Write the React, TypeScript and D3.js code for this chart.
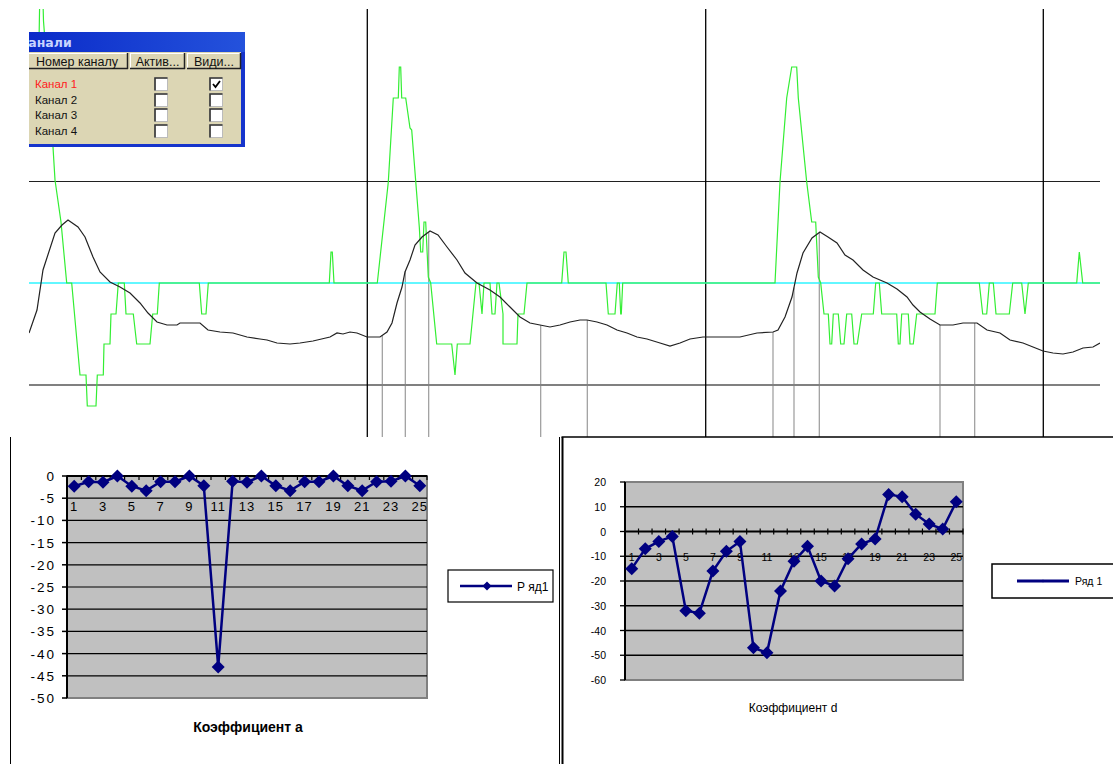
import React from 'react';
import * as d3 from 'd3';

// ---------- top oscilloscope panel data (t = sample, v = ADC counts) ----------
const blackTrace: [number, number][] = [
  [0,-50],[8,-27],[14,13],[26,50],[33,58],[39,63],[49,56],[56,46],[64,26],[71,11],[81,1],[91,-4],[101,-10],[111,-20],[119,-30],[128,-39],[138,-42],[148,-42],[151,-40],[171,-40],[179,-47],[191,-49],[204,-50],[218,-54],[231,-56],[238,-57],[248,-60],[261,-61],[271,-60],[284,-58],[301,-54],[308,-50],[314,-51],[321,-49],[328,-50],[338,-54],[351,-54],
  [358,-49],[363,-40],[368,-20],[373,-4],[376,11],[381,23],[386,38],[393,46],[401,52],[409,48],[418,36],[428,23],[436,10],[448,0],[461,-7],[471,-14],[481,-24],[491,-34],[501,-40],[511,-42],[521,-44],[531,-42],[541,-39],[551,-37],[558,-37],[568,-39],[578,-42],[588,-47],[598,-50],[608,-54],[618,-56],[631,-60],[641,-63],[651,-60],[661,-56],[674,-54],[691,-54],
  [711,-54],[728,-50],[744,-49],[749,-47],[756,-34],[763,-14],[768,10],[774,30],[783,45],[791,51],[799,46],[808,40],[816,28],[824,23],[834,13],[844,6],[858,0],[868,-6],[878,-14],[884,-22],[891,-29],[901,-36],[911,-42],[924,-42],[934,-40],[948,-40],[958,-47],[971,-50],[981,-57],[994,-60],[1004,-64],[1014,-68],[1024,-70],[1034,-71],[1044,-69],[1054,-65],[1064,-64],[1071,-60]
];

const greenTrace: [number, number][] = [
  [10,240],[11,300],[13.5,300],[14.5,262],[24,136],[26,103],[32,61],[37.7,0],[42.7,0],[51,-92],[57,-92],[58.3,-123],[67,-123],[68.3,-92],[74.3,-92],[75,-61],[81,-61],[82,-31],[87,-31],[89.3,0],[95.3,0],[97,-31],[104.3,-31],[107.7,-61],[121,-61],[123.7,-31],[128.3,-31],[130.3,0],[170.3,0],[172.7,-31],[177,-31],[179.3,0],[300.3,0],[302,31],[303.3,31],[305,0],
  [348.3,0],[359.3,101],[364.3,185],[369.3,185],[370.3,216],[371.7,216],[372.7,185],[376.7,185],[381,155],[382.7,153],[390.3,56],[391.7,31],[393.7,31],[395,61],[396.7,61],[399.3,6],[401.7,0],[407.7,-61],[422.7,-61],[426,-92],[428.3,-61],[441,-61],[447,0],[450,0],[453,-31],[455,0],[461,0],[463,-31],[466,-31],[468,0],[470,0],[474,-31],[474,-61],[488,-61],[489,-31],[495,-31],[498,0],[532.7,0],[535,31],[537,31],[539.3,0],[577,0],[579.3,-31],[586,-31],[588.3,0],[590.3,0],[591.7,-31],[592.3,-31],[593.7,0],
  [746,0],[751,101],[757.7,185],[762.7,216],[767.7,216],[769.3,185],[777.7,101],[782.7,61],[786.7,61],[789.3,6],[791.7,0],[795,-31],[799.3,-31],[801,-61],[802.7,-61],[804.3,-31],[809.3,-31],[811.7,-61],[815,-61],[817.7,-31],[822.7,-31],[825,-61],[828.3,-61],[832.7,-31],[844.3,-31],[846.7,0],[850.3,0],[852.7,-31],[867.7,-31],[869.3,-61],[871,-61],[872.7,-31],[879.3,-31],[881,-61],[884.3,-61],[887.7,-31],[906,-31],[908.3,0],[950.3,0],[953.7,-31],[957.7,-31],[960.3,0],[964.3,0],[967,-31],[980.3,-31],[983.7,0],[992.7,0],[996,-31],[999.3,0],[1047.7,0],[1050.3,31],[1053.7,0],[1071,0]
];

const markerTimes = [353.3, 376.3, 399.7, 511.7, 558.3, 744, 765, 790.3, 911, 945.7];
const cursorTimes = [338.3, 676.7, 1014.3];
const guideLevels = [102, -101];
const zeroLevel = 0;

const channels = ['Канал 1', 'Канал 2', 'Канал 3', 'Канал 4'];
const activeFlags = [false, false, false, false];
const visibleFlags = [true, false, false, false];
const headerLabels = ['Номер каналу', 'Актив...', 'Види...'];

// ---------- coefficient charts ----------
const categories = [1,2,3,4,5,6,7,8,9,10,11,12,13,14,15,16,17,18,19,20,21,22,23,24,25];
const xLabelCats = [1,3,5,7,9,11,13,15,17,19,21,23,25];
const coefA = [-2.3,-1.3,-1.4,0,-2.3,-3.3,-1.3,-1.3,0,-2.2,-43,-1.2,-1.4,0,-2.2,-3.3,-1.3,-1.3,0,-2.2,-3.3,-1.3,-1.2,0,-2.2];
const ticksA = [0,-5,-10,-15,-20,-25,-30,-35,-40,-45,-50];
const coefD = [-15,-7,-4,-2,-32,-33,-16,-8,-4,-47,-49,-24,-12,-6,-20,-22,-11,-5,-3,15,14,7,3,1,12];
const ticksD = [20,10,0,-10,-20,-30,-40,-50,-60];

const NAVY = '#000080';
const FONT = '"Liberation Sans", Arial, sans-serif';

const diamond = (x: number, y: number, s: number) => `M${x},${y - s}L${x + s},${y}L${x},${y + s}L${x - s},${y}Z`;

function TopPanel() {
  const xT = d3.scaleLinear().domain([0, 1071]).range([29, 1100]);
  const yT = d3.scaleLinear().domain([-154, 274]).range([437, 9]);
  const line = d3.line<[number, number]>().x(d => xT(d[0])).y(d => yT(d[1]));
  const bis = d3.bisector((d: [number, number]) => d[0]).left;
  const valueAt = (t: number) => {
    const i = Math.max(1, Math.min(blackTrace.length - 1, bis(blackTrace, t)));
    const a = blackTrace[i - 1], b = blackTrace[i];
    return a[1] + (b[1] - a[1]) * (t - a[0]) / (b[0] - a[0]);
  };
  const [x0, x1] = xT.range();
  const [yb, yt] = yT.range();
  return (
    <g>
      <defs>
        <clipPath id="topClip"><rect x={x0} y={yt} width={x1 - x0} height={yb - yt} /></clipPath>
      </defs>
      <g clipPath="url(#topClip)">
        {markerTimes.map((t, i) => (
          <line key={'m' + i} x1={xT(t)} x2={xT(t)} y1={yT(valueAt(t))} y2={yb} stroke="#9a9a9a" strokeWidth={1.2} />
        ))}
        {guideLevels.map((v, i) => (
          <line key={'g' + i} x1={x0} x2={x1} y1={yT(v) + 0.5} y2={yT(v) + 0.5} stroke={i === 0 ? '#202020' : '#808080'} strokeWidth={i === 0 ? 1 : 2} shapeRendering="crispEdges" />
        ))}
        {cursorTimes.map((t, i) => (
          <line key={'c' + i} x1={xT(t)} x2={xT(t)} y1={yt} y2={yb} stroke="#000" strokeWidth={1.3} />
        ))}
        <line x1={x0} x2={x1} y1={yT(zeroLevel)} y2={yT(zeroLevel)} stroke="#2ef4ff" strokeWidth={1.5} />
        <path d={line(greenTrace) || ''} fill="none" stroke="#33ee33" strokeWidth={1.2} />
        <path d={line(blackTrace) || ''} fill="none" stroke="#222" strokeWidth={1.2} />
      </g>
    </g>
  );
}

function Dialog() {
  const left = 20, top = 32, right = 245, bottom = 147;
  const hdr = [[20, 128], [130, 185], [187, 241]];
  const rowY = [78, 94, 109, 125];
  const col1 = 155, col2 = 210;
  return (
    <g>
      <defs>
        <clipPath id="dlgClip"><rect x={29} y={0} width={300} height={200} /></clipPath>
        <linearGradient id="titleGrad" x1="0" x2="1" y1="0" y2="0">
          <stop offset="0" stopColor="#0a2ac8" />
          <stop offset="1" stopColor="#2452dc" />
        </linearGradient>
      </defs>
      <g clipPath="url(#dlgClip)">
        <rect x={left} y={top} width={right - left} height={bottom - top} fill="#1634cc" />
        <rect x={left} y={top} width={right - left} height={20} fill="url(#titleGrad)" />
        <text x={18} y={47} fontFamily='Tahoma, "DejaVu Sans", sans-serif' fontWeight="bold" fontSize={12.5} fill="#c8d4ff">Канали</text>
        <rect x={left} y={52} width={241 - left} height={92} fill="#dcd6b4" />
        {hdr.map(([a, b], i) => (
          <g key={i}>
            <rect x={a} y={53} width={b - a} height={16} fill="#dcd6b4" />
            <line x1={a} x2={b} y1={53.5} y2={53.5} stroke="#fff" />
            <line x1={a + 0.5} x2={a + 0.5} y1={53} y2={69} stroke="#fff" />
            <line x1={a} x2={b} y1={68.5} y2={68.5} stroke="#222" strokeWidth={1.5} />
            <line x1={b - 0.5} x2={b - 0.5} y1={53} y2={69} stroke="#222" strokeWidth={1.5} />
            <text x={i === 0 ? 77 : (a + b) / 2} y={65.5} textAnchor="middle" fontFamily={FONT} fontSize={12.5} fill="#111">{headerLabels[i]}</text>
          </g>
        ))}
        {channels.map((c, i) => (
          <g key={c}>
            <text x={35} y={rowY[i] + 10} fontFamily={FONT} fontSize={11.5} fill={i === 0 ? '#ff2020' : '#111'}>{c}</text>
            {[col1, col2].map((cx, j) => (
              <g key={j}>
                <rect x={cx} y={rowY[i]} width={12.5} height={12.5} fill="#fff" stroke="#bbb" />
                <path d={`M${cx},${rowY[i] + 12.5}V${rowY[i]}H${cx + 12.5}`} fill="none" stroke="#333" strokeWidth={1.6} />
                {(j === 0 ? activeFlags[i] : visibleFlags[i]) && (
                  <path d={`M${cx + 3},${rowY[i] + 6}l2.5,3l4.5,-6`} fill="none" stroke="#000" strokeWidth={1.8} />
                )}
              </g>
            ))}
          </g>
        ))}
      </g>
    </g>
  );
}

function ChartA() {
  const x = d3.scaleBand<number>().domain(categories).range([67, 427]);
  const y = d3.scaleLinear().domain([-50, 0]).range([698, 476]);
  const cx = (c: number) => (x(c) || 0) + x.bandwidth() / 2;
  const line = d3.line<number>().x((_, i) => cx(categories[i])).y(d => y(d));
  const [px0, px1] = x.range();
  const boundaries = categories.map(c => x(c) || 0).concat([px1]);
  return (
    <g fontFamily={FONT}>
      <rect x={px0} y={y(0)} width={px1 - px0} height={y(-50) - y(0)} fill="#c0c0c0" stroke="#808080" strokeWidth={2} />
      {ticksA.filter(t => t < 0 && t > -50).map(t => (
        <line key={t} x1={px0} x2={px1} y1={y(t)} y2={y(t)} stroke="#000" strokeWidth={1.2} />
      ))}
      <line x1={px0} x2={px0} y1={y(0)} y2={y(-50)} stroke="#000" strokeWidth={2} />
      {ticksA.map(t => (
        <g key={'t' + t}>
          <line x1={px0 - 5} x2={px0} y1={y(t)} y2={y(t)} stroke="#000" strokeWidth={1.5} />
          <text x={56} y={y(t) + 5} textAnchor="end" fontSize={13.5} letterSpacing={2} fill="#000">{t}</text>
        </g>
      ))}
      <line x1={px0} x2={px1} y1={y(0)} y2={y(0)} stroke="#000" strokeWidth={2} />
      {boundaries.map((b, i) => (
        <line key={'b' + i} x1={b} x2={b} y1={y(0)} y2={y(0) + 4} stroke="#000" strokeWidth={1.2} />
      ))}
      {xLabelCats.map(c => (
        <text key={'x' + c} x={cx(c)} y={511} textAnchor="middle" fontSize={13} letterSpacing={1} fill="#000">{c}</text>
      ))}
      <path d={line(coefA) || ''} fill="none" stroke={NAVY} strokeWidth={2.5} />
      {coefA.map((v, i) => (
        <path key={'d' + i} d={diamond(cx(categories[i]), y(v), 6.5)} fill={NAVY} />
      ))}
      <text x={(px0 + px1) / 2 + 1} y={732} textAnchor="middle" fontSize={14} fontWeight="bold" fill="#000">Коэффициент а</text>
      <rect x={448} y={570} width={105} height={32} fill="#fff" stroke="#000" strokeWidth={1.2} />
      <line x1={460} x2={512} y1={586} y2={586} stroke={NAVY} strokeWidth={2.5} />
      <path d={diamond(487, 586, 4.5)} fill={NAVY} />
      <text x={517} y={590.5} fontSize={12} fill="#000">Р яд1</text>
    </g>
  );
}

function ChartD() {
  const x = d3.scaleBand<number>().domain(categories).range([625, 963]);
  const y = d3.scaleLinear().domain([-60, 20]).range([680, 482]);
  const cx = (c: number) => (x(c) || 0) + x.bandwidth() / 2;
  const line = d3.line<number>().x((_, i) => cx(categories[i])).y(d => y(d));
  const [px0, px1] = x.range();
  const boundaries = categories.map(c => x(c) || 0).concat([px1]);
  return (
    <g fontFamily={FONT}>
      <rect x={px0} y={y(20)} width={px1 - px0} height={y(-60) - y(20)} fill="#c0c0c0" stroke="#808080" strokeWidth={2} />
      {ticksD.filter(t => t < 20 && t > -60 && t !== 0).map(t => (
        <line key={t} x1={px0} x2={px1} y1={y(t)} y2={y(t)} stroke="#000" strokeWidth={1.3} />
      ))}
      <line x1={px0} x2={px0} y1={y(20)} y2={y(-60)} stroke="#000" strokeWidth={2} />
      {ticksD.map(t => (
        <g key={'t' + t}>
          <line x1={px0 - 5} x2={px0} y1={y(t)} y2={y(t)} stroke="#000" strokeWidth={1.3} />
          <text x={606} y={y(t) + 4} textAnchor="end" fontSize={10.5} fill="#000">{t}</text>
        </g>
      ))}
      <line x1={px0} x2={px1} y1={y(0)} y2={y(0)} stroke="#000" strokeWidth={1.8} />
      {boundaries.map((b, i) => (
        <line key={'b' + i} x1={b} x2={b} y1={y(0) - 3} y2={y(0) + 3} stroke="#000" strokeWidth={1.2} />
      ))}
      {xLabelCats.map(c => (
        <text key={'x' + c} x={cx(c)} y={561} textAnchor="middle" fontSize={10.5} fill="#000">{c}</text>
      ))}
      <path d={line(coefD) || ''} fill="none" stroke={NAVY} strokeWidth={2.5} />
      {coefD.map((v, i) => (
        <path key={'d' + i} d={diamond(cx(categories[i]), y(v), 6.5)} fill={NAVY} />
      ))}
      <text x={793} y={712} textAnchor="middle" fontSize={12} fill="#000">Коэффициент d</text>
      <rect x={992} y={564} width={130} height={34} fill="#fff" stroke="#000" strokeWidth={1.5} />
      <line x1={1017} x2={1069} y1={581} y2={581} stroke={NAVY} strokeWidth={3} />
      <path d={diamond(1043, 581, 1.5)} fill={NAVY} />
      <text x={1075} y={585} fontSize={10.5} fill="#000">Ряд 1</text>
    </g>
  );
}

export default function App() {
  return (
    <svg width={1113} height={764} style={{ position: 'absolute', left: 0, top: 0, background: '#fff' }}>
      <rect x={0} y={0} width={1113} height={764} fill="#fff" />
      <TopPanel />
      <Dialog />
      <line x1={10.5} x2={10.5} y1={437} y2={764} stroke="#000" strokeWidth={1} />
      <line x1={559.5} x2={559.5} y1={437} y2={764} stroke="#000" strokeWidth={1} />
      <line x1={562.5} x2={562.5} y1={437} y2={764} stroke="#000" strokeWidth={2} />
      <line x1={561.5} x2={1113} y1={437} y2={437} stroke="#000" strokeWidth={1.6} />
      <ChartA />
      <ChartD />
    </svg>
  );
}
